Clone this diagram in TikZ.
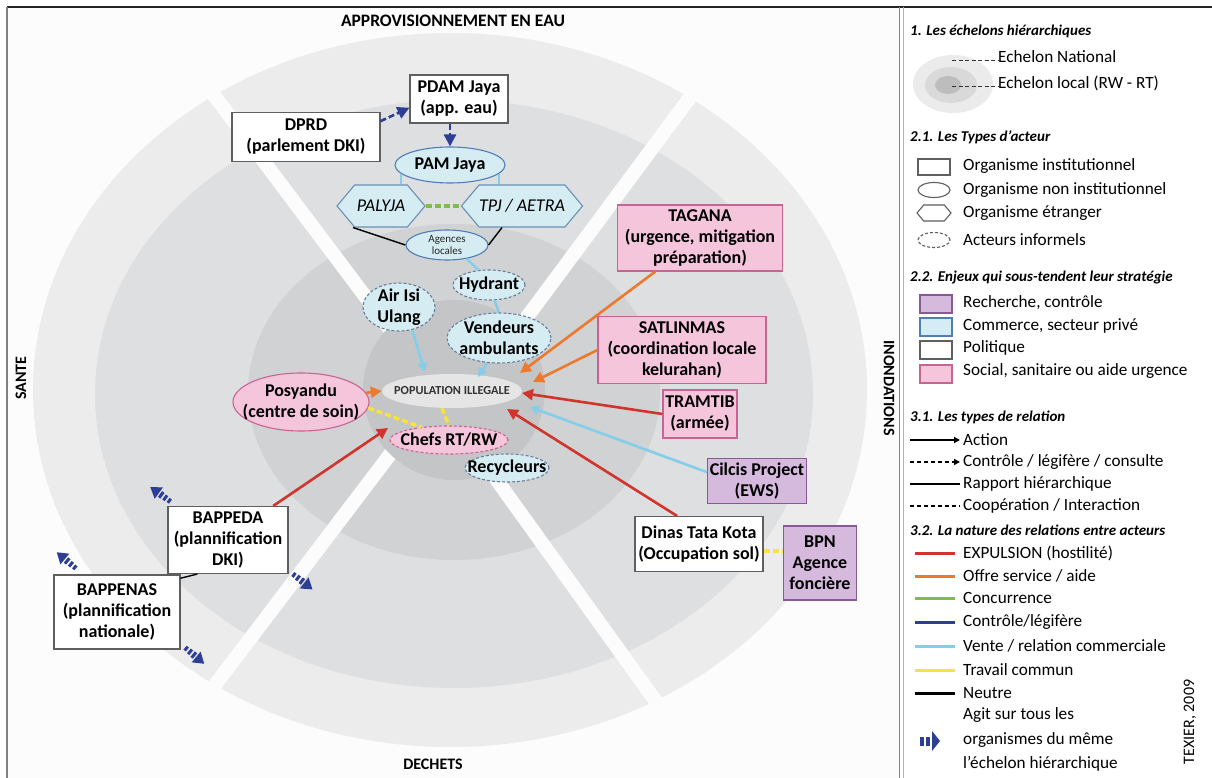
\documentclass[tikz,border=0pt]{standalone}
\usepackage{fontspec}
\setmainfont{Carlito}
\usetikzlibrary{shapes.geometric,shapes.symbols,arrows.meta}

\definecolor{ringA}{RGB}{236,236,237}
\definecolor{ringB}{RGB}{222,223,224}
\definecolor{ringC}{RGB}{209,210,211}
\definecolor{ringD}{RGB}{196,197,199}
\definecolor{popF}{RGB}{229,229,230}
\definecolor{panelF}{RGB}{252,252,252}
\definecolor{cBox}{RGB}{95,95,95}
\definecolor{cPink}{RGB}{245,197,220}
\definecolor{cPinkD}{RGB}{200,100,145}
\definecolor{cPurp}{RGB}{213,186,222}
\definecolor{cPurpD}{RGB}{135,90,150}
\definecolor{cBlue}{RGB}{212,236,242}
\definecolor{cBlueD}{RGB}{80,125,180}
\definecolor{cHexD}{RGB}{105,145,180}
\definecolor{cDashD}{RGB}{105,125,155}
\definecolor{cRed}{RGB}{208,52,44}
\definecolor{cOrange}{RGB}{236,122,46}
\definecolor{cGreen}{RGB}{128,188,72}
\definecolor{cDBlue}{RGB}{45,62,150}
\definecolor{cLBlue}{RGB}{132,206,234}
\definecolor{cYellow}{RGB}{246,228,62}

\newcommand\myNF{\fontsize{18}{21}\selectfont\bfseries}
\newcommand\myNFi{\fontsize{18}{21}\selectfont\itshape}
\newcommand\mySF{\fontsize{11}{12}\selectfont}
\newcommand\myPF{\fontsize{12.3}{14}\selectfont\bfseries}
\newcommand\myRF{\fontsize{16}{19}\selectfont\bfseries}
\newcommand\myLF{\fontsize{17.2}{20}\selectfont}
\newcommand\myHF{\fontsize{15}{18}\selectfont\bfseries\itshape}

\tikzset{
  base/.style={align=center, inner sep=0pt, text=black, font=\myNF},
  inst/.style={base, rectangle, draw=cBox, line width=1.1, fill=white},
  social/.style={base, rectangle, draw=cPinkD, line width=1.1, fill=cPink},
  research/.style={base, rectangle, draw=cPurpD, line width=1.1, fill=cPurp},
  nonin/.style={base, ellipse, inner sep=-15pt, draw=cBlueD, line width=1.1, fill=cBlue},
  foreign/.style={base, signal, signal to=east and west, signal pointer angle=100,
     draw=cHexD, line width=1.1, fill=cBlue, font=\myNFi},
  informal/.style={base, ellipse, inner sep=-15pt, draw=cDashD, line width=1.1, dash pattern=on 3 off 2},
  regionlbl/.style={font=\myRF, text=black, inner sep=0pt},
  legtxt/.style={anchor=west, font=\myLF, text=black, inner sep=0pt},
  leghead/.style={anchor=west, font=\myHF, text=black, inner sep=0pt},
  expel/.style={draw=cRed, line width=2.6, -{Triangle[length=11,width=11]}},
  offer/.style={draw=cOrange, line width=2.6, -{Triangle[length=11,width=11]}},
  sell/.style={draw=cLBlue, line width=2.6},
  sellarr/.style={sell, -{Triangle[length=9,width=9]}},
  ctrl/.style={draw=cDBlue, line width=2.6, dash pattern=on 6 off 3, -{Triangle[length=12,width=12]}},
  coop/.style={line width=3.5, dash pattern=on 6 off 3},
  neutral/.style={draw=black, line width=1.4},
  agitsym/.pic={
    \fill[cDBlue] (-13,-2.5) rectangle (-10,2.5);
    \fill[cDBlue] (-8,-3) rectangle (-5,3);
    \fill[cDBlue] (-3,-3.5) rectangle (0,3.5);
    \fill[cDBlue] (1.5,-7) -- (12,0) -- (1.5,7) -- cycle;
  },
  agitleg/.pic={
    \fill[cDBlue] (-10,-4.5) rectangle (-6,4.5);
    \fill[cDBlue] (-4,-4.5) rectangle (0,4.5);
    \fill[cDBlue] (2,-10) -- (10,0) -- (2,10) -- cycle;
  }
}

\begin{document}
\begin{tikzpicture}[x=1pt,y=-1pt]
\useasboundingbox (0,0) rectangle (1212,778);
\fill[white] (0,0) rectangle (1212,778);
\fill[panelF] (7,7) rectangle (899,778);

% ---- concentric levels ----
\fill[ringA] (450,390) ellipse [x radius=417, y radius=357];
\fill[ringB] (454,394) ellipse [x radius=359, y radius=294];
\fill[ringC] (454,392) ellipse [x radius=206, y radius=168];
\begin{scope}
  \clip (450,390) ellipse [x radius=420, y radius=360];
  \draw[panelF, line width=14] (398,340) -- (165,30);
  \draw[panelF, line width=14] (510,340) -- (740,30);
  \draw[panelF, line width=14] (401,440) -- (158,760);
  \draw[panelF, line width=14] (468,440) -- (698,760);
\end{scope}
\fill[ringD] (454,390) ellipse [x radius=91, y radius=90];

% ---- frame ----
\draw[black!85, line width=2] (7,7) -- (1212,7);
\draw[gray, line width=1.5] (7,7) -- (7,778);
\draw[gray, line width=1] (899,7) -- (899,778);
\draw[gray!60, line width=1] (903,7) -- (903,778);

% ---- region labels ----
\node[regionlbl, font=\fontsize{17.5}{20}\selectfont\bfseries] (rEau) at (453,21) {APPROVISIONNEMENT EN EAU};
\node[regionlbl, rotate=90] (rSante) at (21,378) {SANTE};
\node[regionlbl, rotate=-90] (rInond) at (889,388) {INONDATIONS};
\node[regionlbl] (rDech) at (433,764) {DECHETS};

% ---- actors ----
\node[inst, minimum width=98, minimum height=48] (pdam) at (459,99) {PDAM Jaya\\(app. eau)};
\node[inst, minimum width=148, minimum height=49] (dprd) at (306,137) {DPRD\\(parlement DKI)};
\node[nonin, minimum width=110, minimum height=36] (pam) at (450,165) {PAM Jaya};
\node[foreign, minimum width=88, minimum height=42] (palyja) at (381,206) {PALYJA};
\node[foreign, minimum width=109, minimum height=42] (tpj) at (522,206) {TPJ / AETRA};
\node[nonin, minimum width=82, minimum height=30, font=\mySF, text=black!85] (ag) at (447,245) {Agences\\locales};
\node[informal, fill=cBlue, minimum width=72, minimum height=30] (hyd) at (489,285) {Hydrant};
\node[informal, fill=cBlue, minimum width=104, minimum height=50] (ven) at (499,338) {Vendeurs\\ambulants};
\node[informal, fill=cBlue, minimum width=72, minimum height=48] (air) at (399,307) {Air Isi\\Ulang};
\node[ellipse, fill=popF, minimum width=140, minimum height=34, inner sep=-15pt, font=\myPF, text=black!80] (pop) at (452,391) {POPULATION ILLEGALE};
\node[base, ellipse, inner sep=-15pt, draw=cPinkD, line width=1.1, fill=cPink, minimum width=136, minimum height=58] (posy) at (301,402) {Posyandu\\(centre de soin)};
\node[informal, draw=cPinkD, fill=cPink, minimum width=118, minimum height=28] (chefs) at (449,440) {Chefs RT/RW};
\node[informal, fill=cBlue, minimum width=84, minimum height=28] (recy) at (507,468) {Recycleurs};
\node[inst, minimum width=120, minimum height=67] (bappeda) at (228,540) {BAPPEDA\\(plannification\\DKI)};
\node[inst, minimum width=126, minimum height=74] (bappenas) at (117,612) {BAPPENAS\\(plannification\\nationale)};
\node[social, minimum width=165, minimum height=66] (tagana) at (700,238) {TAGANA\\(urgence, mitigation\\préparation)};
\node[social, minimum width=168, minimum height=67] (satl) at (682,350) {SATLINMAS\\(coordination locale\\kelurahan)};
\node[social, minimum width=74, minimum height=48] (tram) at (700,414) {TRAMTIB\\(armée)};
\node[research, minimum width=99, minimum height=45] (cil) at (757,481) {Cilcis Project\\(EWS)};
\node[inst, minimum width=128, minimum height=55] (dinas) at (699,544) {Dinas Tata Kota\\(Occupation sol)};
\node[research, minimum width=73, minimum height=74] (bpn) at (820,563) {BPN\\Agence\\foncière};

% ---- arrow ends near the population ----
\coordinate (tagT) at (520,373);
\coordinate (satT) at (533,382);
\coordinate (traT) at (522,393);
\coordinate (cilT) at (530,407);
\coordinate (dinT) at (507,409);
\coordinate (bapT) at (388,428);
\coordinate (airT) at (425,372);
\coordinate (venT) at (478,377);

% ---- relations ----
\draw[ctrl] (dprd.12) -- (pdam.190);
\draw[ctrl] (pam.north |- pdam.south) -- (pam.north);
\draw[sell] (pam.190) -- (pam.190 |- palyja.north);
\draw[sell] (pam.-10) -- (pam.-10 |- tpj.north);
\draw[coop, draw=cGreen] (palyja.east) -- (tpj.west);
\draw[neutral] ([xshift=-28]palyja.south) -- (ag.west);
\draw[neutral] ([xshift=-20]tpj.south) -- (ag.east);
\draw[sell] (ag.-35) -- (hyd.125);
\draw[sell] (hyd.-70) -- (ven.north);
\draw[sellarr] (ven.-115) -- (venT);
\draw[sellarr] (air.-60) -- (airT);
\draw[offer] (posy.8) -- (pop.west);
\draw[coop, draw=cYellow] (posy.-5) -- (chefs.155);
\draw[coop, draw=cYellow] ([xshift=-10]pop.south) -- (chefs.north);
\draw[expel] (bappeda.37) -- (bapT);
\draw[neutral] (bappenas.28) -- (bappeda.-132);
\draw[offer] (tagana) -- (tagT);
\draw[offer] (satl.west) -- (satT);
\draw[expel] (tram.west) -- (traT);
\draw[sellarr] (cil.170) -- (cilT);
\draw[expel] (dinas.128) -- (dinT);
\draw[coop, draw=cYellow] (dinas.-6) -- (dinas.-6 -| bpn.west);

% ---- acts on whole level ----
\pic[rotate=144] (agA) at (160,494) {agitsym};
\pic[rotate=140] (agB) at (66,560) {agitsym};
\pic[rotate=-38] (agC) at (303,582) {agitsym};
\pic[rotate=-40] (agD) at (195,656) {agitsym};

% ================= LEGEND =================
\node[leghead] (lh1) at (910,31) {1. Les échelons hiérarchiques};
\fill[gray!16] (953,84) ellipse [x radius=40, y radius=29];
\fill[gray!30] (951,85) ellipse [x radius=26, y radius=18];
\fill[gray!52] (948,85) ellipse [x radius=13, y radius=9];
\draw[black!80, line width=1, dash pattern=on 4 off 2.5] (952,61) -- (998,61);
\node[legtxt] (le1) at (998,57) {Echelon National};
\draw[black!80, line width=1, dash pattern=on 4 off 2.5] (952,87) -- (998,87);
\node[legtxt] (le2) at (998,83) {Echelon local (RW - RT)};

\node[leghead] (lh2) at (910,137) {2.1. Les Types d'acteur};
\node[rectangle, draw=cBox, line width=1.1, minimum width=32, minimum height=16, inner sep=0] (lt1) at (934,167) {};
\node[legtxt] (lt1t) at (963,166) {Organisme institutionnel};
\node[ellipse, draw=cBox, line width=1.1, minimum width=32, minimum height=15, inner sep=0] (lt2) at (934,190) {};
\node[legtxt] (lt2t) at (963,190) {Organisme non institutionnel};
\node[signal, signal to=east and west, signal pointer angle=100, draw=cBox, line width=1.1, minimum width=34, minimum height=16, inner sep=0] (lt3) at (934,213) {};
\node[legtxt] (lt3t) at (963,213) {Organisme étranger};
\node[ellipse, draw=cBox, line width=1.1, dash pattern=on 3 off 2, minimum width=32, minimum height=15, inner sep=0] (lt4) at (934,240) {};
\node[legtxt] (lt4t) at (963,240) {Acteurs informels};

\node[leghead] (lh3) at (910,278) {2.2. Enjeux qui sous-tendent leur stratégie};
\node[rectangle, draw=cPurpD, fill=cPurp, line width=1.1, minimum width=32, minimum height=18, inner sep=0] (lc1) at (936,304) {};
\node[legtxt] (lc1t) at (963,303) {Recherche, contrôle};
\node[rectangle, draw=cBlueD, fill=cBlue, line width=1.1, minimum width=32, minimum height=18, inner sep=0] (lc2) at (936,327) {};
\node[legtxt] (lc2t) at (963,326) {Commerce, secteur privé};
\node[rectangle, draw=cBox, fill=white, line width=1.1, minimum width=32, minimum height=18, inner sep=0] (lc3) at (936,350) {};
\node[legtxt] (lc3t) at (963,348) {Politique};
\node[rectangle, draw=cPinkD, fill=cPink, line width=1.1, minimum width=32, minimum height=18, inner sep=0] (lc4) at (936,374) {};
\node[legtxt] (lc4t) at (963,371) {Social, sanitaire ou aide urgence};

\node[leghead] (lh4) at (910,417) {3.1. Les types de relation};
\coordinate (r1a) at (910,440); \coordinate (r1b) at (960,440);
\draw[black, line width=1.6, -{Triangle[length=6,width=6]}] (r1a) -- (r1b);
\node[legtxt] (lr1) at (963,440) {Action};
\coordinate (r2a) at (910,462); \coordinate (r2b) at (960,462);
\draw[black, line width=1.8, dash pattern=on 4 off 3, -{Triangle[length=6,width=6]}] (r2a) -- (r2b);
\node[legtxt] (lr2) at (963,462) {Contrôle / légifère / consulte};
\coordinate (r3a) at (910,484); \coordinate (r3b) at (960,484);
\draw[black, line width=1.8] (r3a) -- (r3b);
\node[legtxt] (lr3) at (963,484) {Rapport hiérarchique};
\coordinate (r4a) at (910,506); \coordinate (r4b) at (960,506);
\draw[black, line width=1.8, dash pattern=on 4 off 3] (r4a) -- (r4b);
\node[legtxt] (lr4) at (963,506) {Coopération / Interaction};

\node[leghead] (lh5) at (910,530) {3.2. La nature des relations entre acteurs};
\foreach \yy/\cc/\tt [count=\i] in {553/cRed/{EXPULSION (hostilité)}, 576/cOrange/{Offre service / aide}, 598/cGreen/{Concurrence}, 622/cDBlue/{Contrôle/légifère}, 646/cLBlue/{Vente / relation commerciale}, 670/cYellow/{Travail commun}, 693/black/{Neutre}}{
  \coordinate (na\i) at (915,\yy); \coordinate (nb\i) at (955,\yy);
  \draw[\cc, line width=3] (na\i) -- (nb\i);
  \node[legtxt] (ln\i) at (963,\yy) {\tt};
}
\pic (agL) at (930,741) {agitleg};
\node[legtxt] (lg1) at (963,715) {Agit sur tous les};
\node[legtxt] (lg2) at (963,740) {organismes du même};
\node[legtxt] (lg3) at (963,764) {l'échelon hiérarchique};

\node[font=\fontsize{16}{19}\selectfont, rotate=90, inner sep=0] (auth) at (1190,722) {TEXIER, 2009};
\end{tikzpicture}
\end{document}
